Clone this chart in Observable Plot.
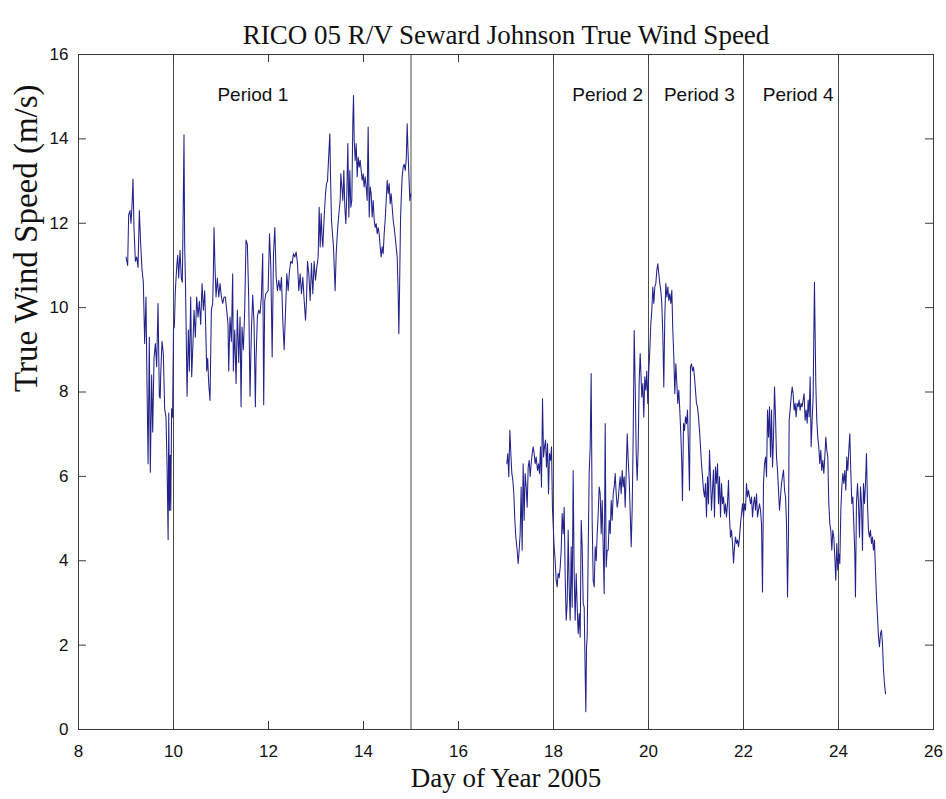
<!DOCTYPE html>
<html>
<head>
<meta charset="utf-8">
<script src="https://cdn.jsdelivr.net/npm/d3@7"></script>
<script src="https://cdn.jsdelivr.net/npm/@observablehq/plot@0.6"></script>
<style>
  body { margin: 0; background: #fff; }
  #chart svg { display: block; }
</style>
</head>
<body>
<div id="chart"></div>
<script>
const chartTitle = "RICO 05 R/V Seward Johnson True Wind Speed";
const xLabel = "Day of Year 2005";
const yLabel = "True Wind Speed (m/s)";
const xTicks = [8, 10, 12, 14, 16, 18, 20, 22, 24, 26];
const yTicks = [0, 2, 4, 6, 8, 10, 12, 14, 16];
const periodBoundaries = [10, 15, 18, 20, 22, 24];
const periodNames = ["Period 1", "Period 2", "Period 3", "Period 4"];
const periodCenters = [11.67, 19.14, 21.07, 23.15];
const periodLabelLevel = 15.05;

// [day of year, true wind speed m/s] — first leg (days 9–15)
const legOne = [
[9.000,11.2],[9.035,11.0],[9.056,12.2],[9.084,12.3],[9.105,12.0],[9.126,12.4],[9.147,13.05],[9.168,11.9],[9.197,11.1],[9.225,11.2],[9.253,10.95],[9.281,12.3],[9.309,11.5],[9.337,10.9],[9.365,10.6],[9.393,9.15],[9.421,10.25],[9.442,8.2],[9.465,6.3],[9.491,9.3],[9.512,6.1],[9.540,8.4],[9.562,7.05],[9.590,8.8],[9.618,9.15],[9.646,8.6],[9.674,10.1],[9.702,7.9],[9.720,7.85],[9.730,8.4],[9.758,9.2],[9.786,8.9],[9.814,7.6],[9.842,7.4],[9.865,6.2],[9.887,4.5],[9.900,7.5],[9.915,5.2],[9.930,6.5],[9.943,5.2],[9.960,7.6],[9.980,7.4],[10.000,9.5],
[10.018,9.54],[10.039,10.4],[10.067,10.96],[10.088,11.24],[10.109,10.7],[10.137,11.36],[10.165,10.7],[10.186,10.6],[10.207,12.6],[10.221,14.1],[10.235,11.5],[10.250,10.7],[10.264,9.7],[10.285,7.9],[10.313,9.47],[10.334,8.5],[10.362,10.25],[10.383,8.36],[10.411,9.2],[10.432,9.94],[10.460,9.3],[10.488,10.25],[10.516,9.78],[10.544,10.15],[10.572,9.6],[10.601,10.57],[10.629,9.94],[10.657,10.4],[10.678,9.54],[10.699,8.5],[10.720,8.8],[10.741,8.2],[10.769,7.8],[10.797,9.94],[10.825,10.1],[10.839,10.8],[10.853,11.9],[10.874,10.96],[10.895,10.25],[10.923,10.7],[10.952,10.25],[10.980,10.57],[11.008,10.25],[11.036,10.1],[11.064,10.25],[11.092,10.25],[11.120,9.94],[11.148,9.6],[11.162,8.5],[11.190,9.78],[11.218,9.2],[11.246,10.8],[11.260,8.5],[11.289,9.47],[11.317,8.2],[11.345,9.94],[11.373,8.7],[11.401,9.78],[11.422,7.65],[11.443,9.54],[11.471,9.0],[11.499,9.94],[11.527,11.6],[11.555,11.5],[11.583,10.25],[11.611,7.9],[11.640,9.47],[11.668,10.3],[11.696,9.6],[11.724,7.65],[11.738,8.8],[11.766,9.78],[11.794,9.94],[11.822,9.86],[11.850,10.25],[11.878,11.28],[11.899,7.7],[11.920,10.15],
[11.943,10.33],[11.992,10.4],[12.021,11.75],[12.049,10.96],[12.077,8.83],[12.105,11.28],[12.133,11.9],[12.161,10.72],[12.189,10.4],[12.217,10.65],[12.245,10.4],[12.273,10.72],[12.301,9.7],[12.329,9.0],[12.357,9.86],[12.386,10.8],[12.414,10.4],[12.442,10.88],[12.470,11.1],[12.498,11.05],[12.526,11.28],[12.554,11.2],[12.582,11.32],[12.610,11.05],[12.638,10.4],[12.666,10.8],[12.694,10.33],[12.723,10.72],[12.751,10.17],[12.779,9.7],[12.800,10.17],[12.821,11.1],[12.849,10.8],[12.877,10.17],[12.905,11.05],[12.933,10.33],[12.961,11.1],[12.989,10.65],[13.017,10.96],[13.045,11.2],[13.067,12.38],[13.088,11.44],[13.109,12.23],[13.130,11.6],[13.144,11.44],[13.172,12.15],[13.200,12.7],[13.221,12.94],[13.242,13.0],[13.263,13.49],[13.291,14.12],[13.305,13.17],[13.326,12.07],[13.347,11.75],[13.368,11.44],[13.389,10.8],[13.403,10.4],[13.425,11.28],[13.453,11.83],[13.481,12.23],[13.509,12.54],[13.523,13.17],[13.544,12.86],[13.565,12.54],[13.586,13.25],[13.607,12.38],[13.628,11.99],[13.649,12.7],[13.670,13.89],[13.691,12.15],[13.712,13.25],[13.733,12.38],[13.754,12.54],[13.776,14.44],[13.790,15.03],[13.804,13.96],[13.825,13.49],[13.846,13.89],[13.867,13.1],[13.888,13.57],[13.909,13.33],[13.930,13.49],[13.951,13.25],[13.972,13.02],[13.993,13.17],[14.014,12.86],[14.035,13.1],[14.056,12.86],[14.077,12.54],[14.098,14.28],[14.120,12.15],[14.141,12.86],[14.162,12.7],[14.183,12.15],[14.204,12.54],[14.225,12.07],[14.246,11.9],[14.267,11.99],[14.288,11.75],[14.309,11.9],[14.330,11.75],[14.351,11.44],[14.372,11.2],[14.393,11.44],[14.414,11.28],[14.435,11.75],[14.456,12.07],[14.478,12.54],[14.499,13.02],[14.520,12.7],[14.541,12.94],[14.562,12.46],[14.583,12.7],[14.604,12.38],[14.625,12.07],[14.646,11.9],[14.667,11.67],[14.688,11.44],[14.709,11.2],[14.730,10.33],[14.744,9.38],[14.758,10.33],[14.779,12.07],[14.793,12.54],[14.814,13.1],[14.835,13.33],[14.857,13.4],[14.878,13.25],[14.899,13.49],[14.920,14.36],[14.934,13.81],[14.955,13.17],[14.976,12.54],[14.997,12.7]
];

// [day of year, true wind speed m/s] — second leg (days 17–25)
const legTwo = [
[17.017,6.3],[17.038,6.54],[17.059,5.99],[17.081,7.09],[17.102,6.54],[17.123,6.07],[17.144,5.91],[17.165,5.59],[17.186,4.96],[17.207,4.56],[17.235,4.25],[17.256,3.93],[17.277,4.25],[17.298,4.64],[17.319,5.75],[17.340,4.25],[17.361,6.3],[17.382,4.96],[17.403,6.07],[17.425,5.75],[17.446,5.27],[17.467,6.22],[17.488,6.38],[17.509,5.99],[17.530,6.3],[17.551,6.54],[17.572,6.7],[17.593,6.54],[17.614,6.3],[17.635,6.46],[17.663,6.14],[17.684,6.3],[17.705,6.07],[17.726,6.7],[17.747,5.75],[17.769,7.84],[17.790,6.46],[17.811,6.7],[17.832,6.86],[17.853,6.22],[17.874,6.78],[17.895,5.59],[17.916,6.54],[17.937,6.38],[17.958,6.7],[17.979,5.2],
[18.014,4.33],[18.035,4.0],[18.056,3.54],[18.077,3.38],[18.098,3.7],[18.119,3.6],[18.141,3.85],[18.162,4.25],[18.183,5.12],[18.204,4.64],[18.225,5.27],[18.246,3.6],[18.267,2.59],[18.288,2.99],[18.309,4.72],[18.330,3.38],[18.351,2.59],[18.372,4.33],[18.393,2.9],[18.414,6.14],[18.435,3.7],[18.456,2.59],[18.478,3.7],[18.499,2.9],[18.520,2.27],[18.541,2.75],[18.562,2.19],[18.583,4.96],[18.604,4.33],[18.625,2.99],[18.646,2.9],[18.667,1.33],[18.681,0.42],[18.695,1.95],[18.709,2.19],[18.730,4.17],[18.751,6.07],[18.772,6.7],[18.793,8.44],[18.814,4.96],[18.835,3.54],[18.857,3.38],[18.878,4.33],[18.899,4.0],[18.920,4.64],[18.941,5.12],[18.962,5.75],[18.983,5.59],[19.004,4.64],[19.025,5.43],[19.046,4.33],[19.067,3.22],[19.088,7.25],[19.109,3.85],[19.130,4.25],[19.151,4.25],[19.173,4.96],[19.194,4.64],[19.215,5.43],[19.236,4.96],[19.257,5.59],[19.278,5.75],[19.299,6.07],[19.320,5.59],[19.341,5.27],[19.362,5.43],[19.383,5.75],[19.404,5.99],[19.425,5.59],[19.446,6.14],[19.467,5.75],[19.488,5.99],[19.509,5.27],[19.530,6.07],[19.552,7.01],[19.573,6.38],[19.594,5.91],[19.615,5.12],[19.636,4.33],[19.657,5.27],[19.678,7.01],[19.699,9.46],[19.720,8.18],[19.741,6.54],[19.762,5.91],[19.783,6.7],[19.804,8.28],[19.825,8.91],
[19.859,7.88],[19.880,8.2],[19.901,7.41],[19.922,8.36],[19.943,8.04],[19.964,8.5],[19.985,7.73],[20.006,8.5],[20.028,8.99],[20.049,9.62],[20.070,9.94],[20.091,10.49],[20.112,10.1],[20.133,10.49],[20.154,10.57],[20.175,10.88],[20.196,11.04],[20.217,10.8],[20.238,10.57],[20.259,10.41],[20.280,10.1],[20.301,9.38],[20.322,8.12],[20.343,9.78],[20.365,10.57],[20.386,10.25],[20.407,10.49],[20.428,10.17],[20.449,10.33],[20.470,10.1],[20.491,10.41],[20.512,9.46],[20.533,8.83],[20.554,7.96],[20.575,8.67],[20.596,8.2],[20.617,7.73],[20.638,8.04],[20.659,7.57],[20.680,7.01],[20.701,6.3],[20.715,5.43],[20.737,7.25],[20.758,7.09],[20.779,7.41],[20.800,7.25],[20.821,7.57],[20.842,6.7],[20.863,5.67],[20.884,8.59],[20.905,8.67],[20.926,8.5],[20.947,8.59],[20.968,8.36],[20.989,8.04],[21.010,7.73],[21.031,7.65],[21.052,7.41],[21.074,7.09],[21.095,6.7],[21.116,6.3],[21.137,5.99],[21.158,5.67],[21.179,5.51],[21.200,5.83],[21.221,5.04],[21.242,5.99],[21.263,5.35],[21.284,6.62],[21.305,5.99],[21.326,5.2],[21.347,5.67],[21.368,6.15],[21.389,5.04],[21.410,6.22],[21.432,5.83],[21.453,6.3],[21.474,5.35],[21.495,5.99],[21.516,5.04],[21.537,5.83],[21.558,5.35],[21.579,5.51],[21.600,5.12],[21.621,5.35],[21.642,5.04],[21.663,5.35],[21.684,5.91],[21.705,5.04],[21.726,4.56],[21.747,4.72],[21.769,4.41],[21.790,3.95],[21.811,4.33],[21.832,4.56],[21.853,4.41],[21.874,4.49],[21.895,4.33],[21.916,4.56],[21.937,4.88],[21.958,5.12],[21.979,5.35],
[22.000,5.04],[22.021,5.35],[22.042,5.2],[22.063,5.83],[22.084,5.51],[22.105,5.67],[22.127,5.51],[22.148,5.35],[22.169,5.51],[22.190,5.04],[22.211,5.35],[22.232,5.51],[22.253,5.2],[22.274,5.59],[22.295,5.04],[22.316,5.2],[22.337,5.35],[22.358,5.2],[22.379,4.88],[22.400,3.26],[22.421,5.83],[22.442,6.3],[22.464,6.46],[22.485,5.99],[22.506,7.57],[22.527,6.93],[22.548,7.65],[22.569,6.46],[22.590,7.57],[22.611,6.22],[22.632,6.93],[22.653,8.12],[22.674,7.41],[22.695,6.46],[22.716,6.15],[22.737,5.67],[22.758,5.2],[22.779,5.51],[22.800,5.83],[22.821,5.99],[22.842,6.15],[22.864,5.67],[22.885,5.51],[22.906,4.88],[22.927,3.14],
[22.946,4.56],[22.961,7.33],[22.982,7.57],[23.003,7.88],[23.024,8.12],[23.045,7.96],[23.066,7.57],[23.087,7.73],[23.108,7.41],[23.129,7.73],[23.150,7.65],[23.171,7.81],[23.192,7.57],[23.213,7.73],[23.234,7.65],[23.255,7.81],[23.276,7.96],[23.297,7.33],[23.319,7.57],[23.340,7.26],[23.361,7.81],[23.382,7.41],[23.403,8.36],[23.424,6.7],[23.445,7.33],[23.466,7.88],[23.480,9.3],[23.494,10.6],[23.508,9.41],[23.522,8.2],[23.543,7.33],[23.564,6.93],[23.585,6.7],[23.606,6.3],[23.627,6.62],[23.648,6.14],[23.670,6.38],[23.691,6.07],[23.712,6.46],[23.733,6.93],[23.754,6.62],[23.775,6.46],[23.796,5.36],[23.817,4.88],[23.838,4.72],[23.859,4.25],[23.880,4.72],[23.901,4.56],[23.922,4.1],[23.943,3.54],[23.964,4.41],[23.985,3.78],
[24.006,4.17],[24.028,3.93],[24.049,5.2],[24.070,5.75],[24.091,6.07],[24.112,5.83],[24.133,6.14],[24.154,5.67],[24.175,6.46],[24.196,6.14],[24.217,6.62],[24.238,7.01],[24.259,6.14],[24.280,5.36],[24.301,5.51],[24.322,4.88],[24.343,4.17],[24.357,3.14],[24.378,5.36],[24.400,5.83],[24.421,5.36],[24.442,4.56],[24.463,5.75],[24.484,5.36],[24.505,4.25],[24.526,5.83],[24.547,5.36],[24.568,5.83],[24.589,6.54],[24.610,5.36],[24.631,4.72],[24.652,4.56],[24.673,4.72],[24.694,4.41],[24.715,4.56],[24.736,4.25],[24.757,4.49],[24.778,3.78],[24.800,3.14],[24.821,2.67],[24.842,2.19],[24.863,1.96],[24.884,2.27],[24.905,2.35],[24.926,2.03],[24.947,1.41],[24.968,1.09],[24.989,0.85]
];

const W = 946, H = 799;
const mTop = 54, mBottom = 70, mLeft = 78, mRight = 13;
const innerW = W - mLeft - mRight, innerH = H - mTop - mBottom;
const tickLen = 8;
const sans = "'Liberation Sans', Arial, Helvetica, sans-serif";
const serif = "'Liberation Serif', 'Times New Roman', Times, serif";
const axisColor = "#3a3a3a";
const toRows = (arr) => arr.map(([day, speed]) => ({day, speed}));

const chart = Plot.plot({
  width: W,
  height: H,
  marginTop: mTop,
  marginBottom: mBottom,
  marginLeft: mLeft,
  marginRight: mRight,
  style: {background: "#fff", fontFamily: sans, color: "#111"},
  x: {domain: [8, 26], label: null},
  y: {domain: [0, 16], label: null},
  marks: [
    Plot.ruleX(periodBoundaries, {x: (d) => d, stroke: "#4a4a4a", strokeWidth: 1}),
    Plot.line(toRows(legOne), {x: "day", y: "speed", stroke: "#22228a", strokeWidth: 1.05}),
    Plot.line(toRows(legTwo), {x: "day", y: "speed", stroke: "#22228a", strokeWidth: 1.05}),
    Plot.frame({stroke: axisColor, strokeWidth: 1}),
    Plot.tickX(xTicks, {x: (d) => d, insetTop: innerH - tickLen, stroke: axisColor}),
    Plot.tickX(xTicks, {x: (d) => d, insetBottom: innerH - tickLen, stroke: axisColor}),
    Plot.tickY(yTicks, {y: (d) => d, insetRight: innerW - tickLen, stroke: axisColor}),
    Plot.tickY(yTicks, {y: (d) => d, insetLeft: innerW - tickLen, stroke: axisColor}),
    Plot.axisX(xTicks, {tickSize: 0, tickPadding: 15, fontSize: 17, fontFamily: sans, label: null, tickFormat: (d) => String(d)}),
    Plot.axisY(yTicks, {tickSize: 0, tickPadding: 10, fontSize: 17, fontFamily: sans, label: null, tickFormat: (d) => String(d)}),
    Plot.text(periodNames, {
      x: periodCenters,
      y: periodNames.map(() => periodLabelLevel),
      text: (d) => d,
      fontSize: 19,
      fontFamily: sans,
      fill: "#111"
    }),
    Plot.text([chartTitle], {text: (d) => d, frameAnchor: "top", lineAnchor: "middle", dy: -19, fontSize: 27, fontFamily: serif, fill: "#111"}),
    Plot.text([xLabel], {text: (d) => d, frameAnchor: "bottom", lineAnchor: "middle", dy: 49, fontSize: 27, fontFamily: serif, fill: "#111"}),
    Plot.text([yLabel], {text: (d) => d, frameAnchor: "left", lineAnchor: "middle", dx: -52, rotate: -90, fontSize: 33, fontFamily: serif, fill: "#111"})
  ]
});

document.getElementById("chart").appendChild(chart);
</script>
</body>
</html>
